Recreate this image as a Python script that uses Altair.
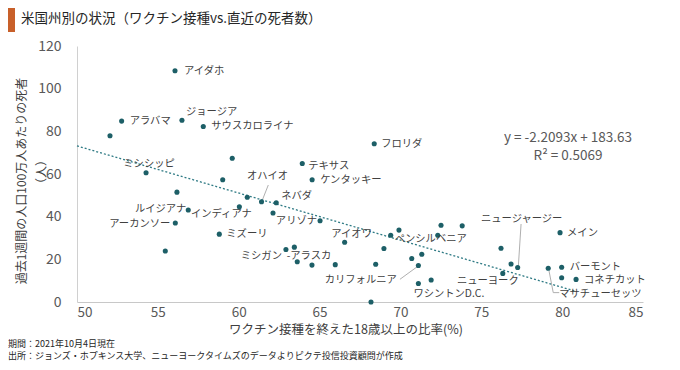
import altair as alt
import pandas as pd

FONT = "Noto Sans CJK JP"

# ---- data ----
vacc = [56.06, 52.76, 56.49, 57.81, 52.04, 59.60, 54.27, 59.01, 56.18, 60.53,
        61.41, 62.32, 60.04, 56.88, 62.12, 65.03, 56.08, 58.80, 55.46, 62.92,
        63.44, 63.62, 64.53, 65.97, 66.55, 68.98, 68.47, 69.91, 69.40, 72.51,
        73.82, 72.31, 71.32, 70.70, 71.11, 71.11, 71.90, 68.18, 68.38, 63.93,
        64.54, 79.87, 76.22, 76.84, 77.25, 76.33, 79.14, 79.97, 79.97, 80.86]
deaths = [108.4, 84.8, 85.2, 82.3, 77.9, 67.4, 60.6, 57.3, 51.5, 49.1,
          47.0, 46.5, 44.6, 43.1, 41.7, 38.1, 37.0, 31.8, 23.9, 24.6,
          25.7, 18.9, 17.3, 17.5, 28.0, 25.1, 17.7, 33.7, 31.3, 36.0,
          35.7, 31.3, 22.4, 20.4, 17.1, 8.7, 10.3, 0.0, 74.2, 64.9,
          57.3, 32.5, 25.2, 17.8, 16.2, 13.4, 15.8, 16.3, 11.4, 10.6]
names = ["アイダホ", "アラバマ", "ジョージア", "サウスカロライナ", "", "", "ミシシッピ", "", "", "",
         "オハイオ", "ネバダ", "インディアナ", "ルイジアナ", "", "アリゾナ", "アーカンソー", "ミズーリ", "", "ミシガン",
         "-アラスカ", "", "", "", "アイオワ", "", "", "", "ペンシルベニア", "",
         "", "", "", "", "カリフォルニア", "ワシントンD.C.", "", "", "フロリダ", "テキサス",
         "ケンタッキー", "メイン", "", "", "ニュージャージー", "ニューヨーク", "マサチューセッツ", "バーモント", "", "コネチカット"]

slope = [-2.2093]
intercept = [183.63]
r2 = [0.5069]

x_ticks = [50, 55, 60, 65, 70, 75, 80, 85]
y_ticks = [0, 20, 40, 60, 80, 100, 120]

title_text = "米国州別の状況（ワクチン接種vs.直近の死者数）"
x_title = "ワクチン接種を終えた18歳以上の比率(%)"
y_title = ["過去1週間の人口100万人あたりの死者", "（人）"]
notes = ["期間：2021年10月4日現在",
         "出所：ジョンズ・ホプキンス大学、ニューヨークタイムズのデータよりピクテ投信投資顧問が作成"]

# label placement (pixel offsets from the point: dx, dy, align)
label_style = {
    "アイダホ": (9, 0, "left"), "アラバマ": (8, 0, "left"), "ジョージア": (4, -8, "left"),
    "サウスカロライナ": (8, 0, "left"), "ミシシッピ": (3, -9, "center"),
    "オハイオ": (6, -26, "center"), "ネバダ": (5, -7, "left"), "インディアナ": (-18, 7, "center"),
    "ルイジアナ": (-2, -1, "right"), "アリゾナ": (-3, 0, "right"), "アーカンソー": (-5, 1, "right"),
    "ミズーリ": (7, 0, "left"), "ミシガン": (-4, 6.5, "right"), "-アラスカ": (-7.6, 9, "left"),
    "テキサス": (6, 2, "left"), "ケンタッキー": (8, 0, "left"), "フロリダ": (7, 0, "left"),
    "アイオワ": (7, -8, "center"), "ペンシルベニア": (4, 4, "left"),
    "カリフォルニア": (-21.6, 14.5, "right"), "ワシントンD.C.": (-5, 10.5, "left"),
    "ニューヨーク": (-15, 8, "center"), "ニュージャージー": (4, -48.5, "center"),
    "メイン": (7, 0.6, "left"), "バーモント": (8, -0.7, "left"), "コネチカット": (8, 0.3, "left"),
    "マサチューセッツ": (11, 25.5, "left"),
}

# leader lines (data coordinates)
lead_x = [61.83, 69.97, 77.46, 79.19, 79.45]
lead_y = [54.84, 10.64, 36.56, 14.53, 4.4]
lead_x2 = [61.48, 71.04, 77.29, 79.45, 79.82]
lead_y2 = [48.14, 16.55, 16.55, 4.4, 4.4]

# ---- build ----
df = pd.DataFrame({"x": vacc, "y": deaths, "name": names})
xmax = max(vacc)
trend = pd.DataFrame({"x": [50, xmax],
                      "y": [slope[0] * 50 + intercept[0], slope[0] * xmax + intercept[0]]})
leaders = pd.DataFrame({"x": lead_x, "y": lead_y, "x2": lead_x2, "y2": lead_y2})

xscale = alt.Scale(domain=[50, 85], nice=False, zero=False)
yscale = alt.Scale(domain=[0, 120], nice=False, zero=False)

xaxis = alt.Axis(values=x_ticks, title=None, grid=False, ticks=False, domainColor="#c8c8c8",
                 labelColor="#595959", labelFontSize=13.5, labelFont=FONT, labelPadding=3,
                 labelFontWeight="normal")
yaxis = alt.Axis(values=y_ticks, title=None, grid=False, ticks=False, domainColor="#d0d0d0",
                 labelColor="#595959", labelFontSize=14, labelFont=FONT, labelPadding=16)

pts = alt.Chart(df).mark_circle(size=26, color="#1d5f67", opacity=1).encode(
    x=alt.X("x:Q", scale=xscale, axis=xaxis),
    y=alt.Y("y:Q", scale=yscale, axis=yaxis),
)

trend_line = alt.Chart(trend).mark_line(color="#2e7a84", strokeDash=[2, 2], strokeWidth=1.3).encode(
    x=alt.X("x:Q", scale=xscale), y=alt.Y("y:Q", scale=yscale))

lead = alt.Chart(leaders).mark_rule(color="#a6a6a6", strokeWidth=0.9).encode(
    x=alt.X("x:Q", scale=xscale), y=alt.Y("y:Q", scale=yscale), x2="x2:Q", y2="y2:Q")

layers = [trend_line, lead, pts]

for nm, (dx, dy, al) in label_style.items():
    layers.append(
        alt.Chart(df[df["name"] == nm]).mark_text(
            dx=dx, dy=dy, align=al, baseline="middle", font=FONT, fontSize=10.3, color="#404040"
        ).encode(x=alt.X("x:Q", scale=xscale), y=alt.Y("y:Q", scale=yscale), text="name:N")
    )

def deco(text, x, y, size, color="#404040", align="left", angle=0):
    kw = dict(align=align, baseline="middle", font=FONT, fontSize=size, color=color)
    if angle:
        kw["angle"] = angle
    return alt.Chart(pd.DataFrame({"t": [text]})).mark_text(**kw).encode(
        x=alt.value(x), y=alt.value(y), text="t:N")

eq_text = f"y = {slope[0]:.4f}x  +  {intercept[0]:.2f}"
layers += [
    deco(eq_text, 491, 92, 13.5, "#595959", "center"),
    deco(f"R² = {r2[0]:.4f}", 491, 110, 13.5, "#595959", "center"),
    deco(title_text, -56, -27, 13.5, "#262626"),
    deco(x_title, 269, 284, 12.5, "#404040", "center"),
    deco(y_title[0], -55, 135, 12, "#404040", "center", 270),
    deco(y_title[1], -35, 126, 12, "#404040", "center", 270),
    deco(notes[0], -69, 298, 9, "#262626"),
    deco(notes[1], -69, 310, 9, "#262626"),
    alt.Chart(pd.DataFrame({"a": [0]})).mark_rect(color="#c8602a").encode(
        x=alt.value(-69), x2=alt.value(-62), y=alt.value(-41), y2=alt.value(-14)),
]

chart = alt.layer(*layers).properties(
    width=566, height=256,
    padding={"left": 69, "top": 38, "right": 29, "bottom": 60},
    autosize=alt.AutoSizeParams(type="none"),
    background="white",
).configure_view(stroke=None)

chart.save("out.html", embed_options={"renderer": "svg", "actions": False})
